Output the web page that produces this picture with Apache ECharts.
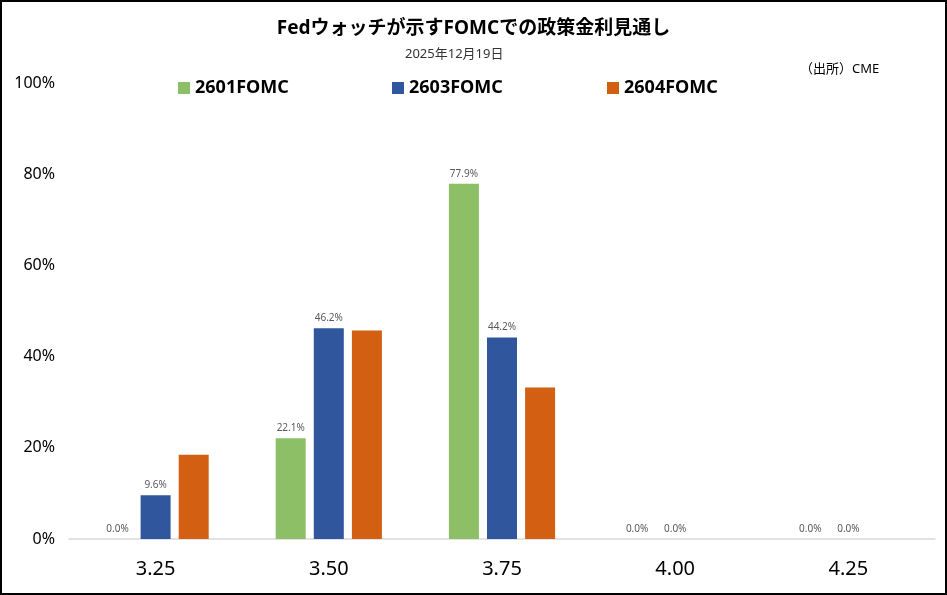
<!DOCTYPE html>
<html lang="ja">
<head>
  <meta charset="UTF-8">
  <title>Fedウォッチが示すFOMCでの政策金利見通し</title>
  <style>
    html, body { margin: 0; padding: 0; background: #fff; }
    .frame {
      width: 943px;
      height: 591px;
      border: 2px solid #000;
    }
  </style>
  <script src="https://cdn.jsdelivr.net/npm/echarts@6/dist/echarts.min.js"></script>
</head>
<body>
  <div class="frame">
    <div id="chart" style="width:943px;height:591px;"></div>
  </div>
  <script>
    // 政策金利（%）
    const rates = ['3.25', '3.50', '3.75', '4.00', '4.25'];
    const names = ['2601FOMC', '2603FOMC', '2604FOMC'];
    const fomc2601 = [0.0, 22.1, 77.9, 0.0, 0.0];
    const fomc2603 = [9.6, 46.2, 44.2, 0.0, 0.0];
    const fomc2604 = [18.5, 45.7, 33.2, 0.0, 0.0];
    const yTicks = [0, 20, 40, 60, 80, 100];

    const colors = ['#8DC066', '#30579E', '#D35F13'];
    const font = '"Noto Sans", "Noto Sans CJK JP", sans-serif';

    const chart = echarts.init(document.getElementById('chart'));

    const valueLabel = {
      show: true,
      position: 'top',
      distance: 5,
      fontSize: 10,
      color: '#595959',
      fontFamily: font,
      formatter: p => p.value.toFixed(1) + '%'
    };

    // 凡例は位置を揃えるため 1 項目ずつ置く
    const legendLeft = [171, 385, 600];
    const legends = names.map((n, i) => ({
      data: [n],
      left: legendLeft[i],
      top: 72,
      itemWidth: 12,
      itemHeight: 12,
      itemGap: 0,
      icon: 'rect',
      textStyle: { fontSize: 18, fontWeight: 'bold', color: '#000', fontFamily: font },
      selectedMode: false
    }));

    const option = {
      backgroundColor: '#fff',
      animation: false,
      title: [
        {
          text: 'Fedウォッチが示すFOMCでの政策金利見通し',
          left: 'center',
          top: 12,
          textStyle: { fontSize: 19, fontWeight: 'bold', color: '#000', fontFamily: font }
        },
        {
          text: '2025年12月19日',
          left: 398,
          top: 41,
          textStyle: { fontSize: 13, fontWeight: 'normal', color: '#333', fontFamily: font }
        },
        {
          text: '（出所）CME',
          left: 793,
          top: 56,
          textStyle: { fontSize: 13, fontWeight: 'normal', color: '#000', fontFamily: font }
        }
      ],
      legend: legends,
      grid: { left: 67, right: 10, top: 81, bottom: 54 },
      xAxis: {
        type: 'category',
        data: rates,
        axisLine: { lineStyle: { color: '#D9D9D9', width: 1.5 } },
        axisTick: { show: false },
        axisLabel: { fontSize: 20, color: '#000', margin: 20, fontFamily: font }
      },
      yAxis: {
        type: 'value',
        min: yTicks[0],
        max: yTicks[yTicks.length - 1],
        interval: 20,
        splitLine: { show: false },
        axisLine: { show: false },
        axisTick: { show: false },
        axisLabel: { fontSize: 16, color: '#000', margin: 14, fontFamily: font, formatter: '{value}%' }
      },
      series: [
        {
          name: names[0], type: 'bar', data: fomc2601,
          barWidth: 30, barGap: '27%',
          itemStyle: { color: colors[0] },
          label: valueLabel
        },
        {
          name: names[1], type: 'bar', data: fomc2603,
          barWidth: 30, barGap: '27%',
          itemStyle: { color: colors[1] },
          label: valueLabel
        },
        {
          name: names[2], type: 'bar', data: fomc2604,
          barWidth: 30, barGap: '27%',
          itemStyle: { color: colors[2] },
          label: { show: false }
        }
      ]
    };

    chart.setOption(option);
  </script>
</body>
</html>
